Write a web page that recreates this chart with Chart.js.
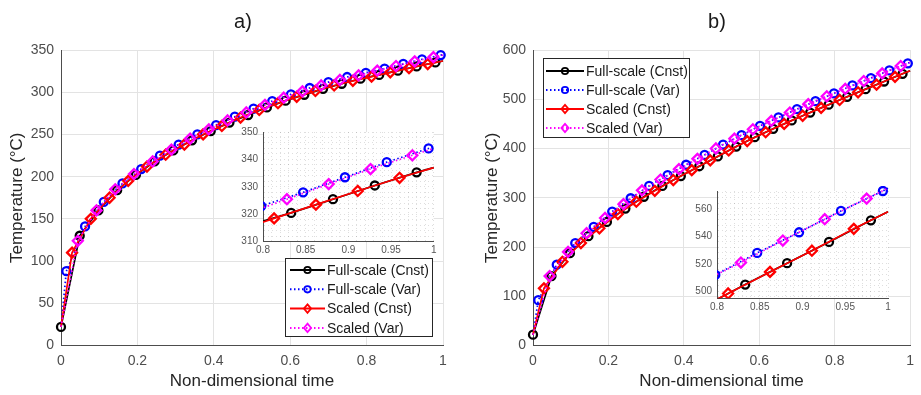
<!DOCTYPE html>
<html>
<head>
<meta charset="utf-8">
<script src="https://cdn.jsdelivr.net/npm/chart.js@4.4.0/dist/chart.umd.min.js"></script>
<style>
  body { margin: 0; background: #fff; }
  #wrap { position: relative; width: 921px; height: 395px; overflow: hidden; font-family: "Liberation Sans", Arial, sans-serif; }
  canvas { position: absolute; }
  .panel { position: absolute; top: 9px; font-size: 20px; line-height: 24px; color: #1a1a1a; transform: translateX(-50%); }
</style>
</head>
<body>
<div id="wrap">
  <canvas id="mainA" width="460" height="395" style="left:0;top:0"></canvas>
  <canvas id="mainB" width="461" height="395" style="left:460px;top:0"></canvas>
  <canvas id="insetA" width="215" height="140" style="left:225px;top:121px"></canvas>
  <canvas id="insetB" width="215" height="140" style="left:680px;top:180px"></canvas>
  <div class="panel" style="left:243px">a)</div>
  <div class="panel" style="left:717px">b)</div>
</div>
<script>
// series names (legend order)
const seriesNames = ["Full-scale (Cnst)", "Full-scale (Var)", "Scaled (Cnst)", "Scaled (Var)"];

// marker times, non-dimensional (same sampling in both panels)
const tFullCnst   = [0, 0.049, 0.098, 0.147, 0.196, 0.245, 0.294, 0.343, 0.392, 0.441, 0.490, 0.539, 0.588, 0.637, 0.686, 0.735, 0.784, 0.833, 0.882, 0.931, 0.980];
const tFullVar    = [0.014, 0.063, 0.112, 0.161, 0.210, 0.259, 0.308, 0.357, 0.406, 0.455, 0.504, 0.553, 0.602, 0.651, 0.700, 0.749, 0.798, 0.847, 0.896, 0.945, 0.994];
const tScaledCnst = [0.029, 0.078, 0.127, 0.176, 0.225, 0.274, 0.323, 0.372, 0.421, 0.470, 0.519, 0.568, 0.617, 0.666, 0.715, 0.764, 0.813, 0.862, 0.911, 0.960];
const tScaledVar  = [0.044, 0.093, 0.142, 0.191, 0.240, 0.289, 0.338, 0.387, 0.436, 0.485, 0.534, 0.583, 0.632, 0.681, 0.730, 0.779, 0.828, 0.877, 0.926, 0.975];

const startTemp = 22; // all curves start here at t = 0

// panel a) temperatures (°C) at the marker times
const aFullCnst   = [22, 130, 160, 184, 202, 218, 231, 243, 254, 264, 273, 282, 290, 297, 304, 310, 316, 320.5, 325.5, 330.5, 335.3];
const aFullVar    = [88, 141, 170, 192, 209, 225, 238, 250, 261, 271, 280.5, 289.5, 297.5, 305, 312, 318, 323, 328, 333.5, 339, 344];
const aScaledCnst = [110, 150, 175, 195, 212, 226, 238, 250, 260, 270, 279, 287, 294.5, 301.5, 308, 313.5, 318.5, 323.5, 328.5, 333.3];
const aScaledVar  = [124, 160, 185, 203, 218, 232, 245, 256, 266.5, 276, 285, 293.5, 301, 308, 314.5, 320, 325.5, 331, 336.5, 341.5];
const aEndTemp    = [337, 344.5, 337, 344]; // value at t = 1

// panel b) temperatures (°C) at the marker times
const bFullCnst   = [22, 141, 187.5, 222, 251, 278, 302, 324, 344, 364, 384, 404, 423, 440, 457, 473, 489, 505, 520.5, 536, 551.7];
const bFullVar    = [92, 164, 208, 241, 272, 299, 324, 346, 367, 387, 408, 427, 446, 463, 480, 496, 512, 528, 543, 558.5, 573];
const bScaledCnst = [116, 170, 208, 238, 267, 292, 314, 336, 356, 376, 396, 415, 433, 450, 466.5, 482.5, 498.5, 514.2, 529.6, 545.5];
const bScaledVar  = [141, 190, 228, 259, 287, 315, 337, 358, 379, 400, 420, 439, 456, 473, 490, 506, 521, 537, 552.5, 567.5];
const bEndTemp    = [558, 575, 558, 575];

// tick labels
const mainXTicks   = [0, 0.2, 0.4, 0.6, 0.8, 1];
const insetXTicks  = [0.8, 0.85, 0.9, 0.95, 1];
const insetAYTicks = [310, 320, 330, 340, 350];
const insetBYTicks = [500, 520, 540, 560];

const FONT = '"Liberation Sans", Arial, sans-serif';
Chart.defaults.font.family = FONT;

const looks = [
  { color: "#000000", dash: [], style: "circle", r: 4, order: 4 },
  { color: "#0000ff", dash: [1.5, 2.5], style: "circle", r: 4, order: 3 },
  { color: "#ff0000", dash: [], style: "rectRot", r: 5, order: 2 },
  { color: "#ff00ff", dash: [1.5, 2.5], style: "rectRot", r: 5, order: 1 },
];
const allTimes = [tFullCnst, tFullVar, tScaledCnst, tScaledVar];

function makeDatasets(temps, ends, clip) {
  return temps.map((vals, i) => {
    const lk = looks[i];
    const pts = [], radii = [];
    if (allTimes[i][0] > 0) { pts.push({ x: 0, y: startTemp }); radii.push(0); }
    allTimes[i].forEach((t, k) => { pts.push({ x: t, y: vals[k] }); radii.push(lk.r); });
    pts.push({ x: 1, y: ends[i] }); radii.push(0);
    return {
      label: seriesNames[i],
      data: pts,
      borderColor: lk.color,
      backgroundColor: "rgba(0,0,0,0)",
      borderWidth: 1.7,
      borderDash: lk.dash,
      pointStyle: lk.style,
      pointRadius: radii,
      pointBorderColor: lk.color,
      pointBackgroundColor: "rgba(0,0,0,0)",
      pointBorderWidth: 2.3,
      tension: 0,
      order: lk.order,
      clip: clip,
    };
  });
}

// legend box drawn inside the axes, MATLAB style
const boxLegend = {
  id: "boxLegend",
  afterDraw(chart, args, o) {
    if (!o || !o.w) return;
    const ctx = chart.ctx;
    ctx.save();
    ctx.fillStyle = "#ffffff";
    ctx.fillRect(o.x, o.y, o.w, o.h);
    ctx.strokeStyle = "#262626";
    ctx.lineWidth = 1;
    ctx.strokeRect(o.x + 0.5, o.y + 0.5, o.w - 1, o.h - 1);
    ctx.font = "14px " + FONT;
    ctx.textBaseline = "middle";
    chart.data.datasets.forEach((ds, i) => {
      const cy = o.y + o.first + i * o.gap;
      ctx.strokeStyle = ds.borderColor;
      ctx.lineWidth = 2;
      ctx.setLineDash(ds.borderDash);
      ctx.beginPath();
      ctx.moveTo(o.x + o.lx0, cy);
      ctx.lineTo(o.x + o.lx1, cy);
      ctx.stroke();
      ctx.setLineDash([]);
      const mx = o.x + (o.lx0 + o.lx1) / 2;
      ctx.lineWidth = 1.8;
      ctx.beginPath();
      if (ds.pointStyle === "circle") {
        ctx.arc(mx, cy, 3.2, 0, Math.PI * 2);
      } else {
        ctx.moveTo(mx, cy - 4.2); ctx.lineTo(mx + 3.6, cy); ctx.lineTo(mx, cy + 4.2); ctx.lineTo(mx - 3.6, cy); ctx.closePath();
      }
      ctx.stroke();
      ctx.fillStyle = "#1a1a1a";
      ctx.fillText(ds.label, o.x + o.tx, cy + 1);
    });
    ctx.restore();
  },
};

// white plot area for insets
const insetBg = {
  id: "insetBg",
  beforeDraw(chart) {
    const a = chart.chartArea;
    chart.ctx.save();
    chart.ctx.fillStyle = "#ffffff";
    chart.ctx.fillRect(a.left, a.top, a.right - a.left, a.bottom - a.top);
    chart.ctx.restore();
  },
};

function mainChart(id, temps, ends, yMax, yStep, yAxisW, padRight, yTitlePad, legendOpts) {
  return new Chart(document.getElementById(id), {
    type: "line",
    data: { datasets: makeDatasets(temps, ends, false) },
    plugins: [boxLegend],
    options: {
      responsive: false,
      animation: false,
      events: [],
      layout: { padding: { top: 50, right: padRight, bottom: 0, left: 0 } },
      plugins: { legend: { display: false }, tooltip: { enabled: false }, boxLegend: legendOpts },
      scales: {
        x: {
          type: "linear", min: 0, max: 1,
          afterFit: (s) => { s.height = 49.5; },
          afterBuildTicks: (s) => { s.ticks = mainXTicks.map((v) => ({ value: v })); },
          grid: { color: "#e3e3e3", lineWidth: 1, drawTicks: false },
          border: { color: "#4d4d4d", width: 1 },
          ticks: { color: "#4d4d4d", font: { size: 14 }, padding: 7, maxRotation: 0, autoSkip: false,
                   callback: (v) => String(+v.toFixed(1)) },
          title: { display: true, text: "Non-dimensional time", color: "#262626", font: { size: 17 }, padding: { top: 0, bottom: 3 } },
        },
        y: {
          min: 0, max: yMax,
          afterFit: (s) => { s.width = yAxisW; },
          grid: { color: "#e3e3e3", lineWidth: 1, drawTicks: false },
          border: { color: "#4d4d4d", width: 1 },
          ticks: { stepSize: yStep, color: "#4d4d4d", font: { size: 14 }, padding: 7 },
          title: { display: true, text: "Temperature (°C)", color: "#262626", font: { size: 17 }, padding: { top: yTitlePad, bottom: 0 } },
        },
      },
    },
  });
}

function insetChart(id, temps, ends, yMin, yMax, yMinorStep, yLabels, yAxisW, padTop, padRight, xAxisH, clip) {
  return new Chart(document.getElementById(id), {
    type: "line",
    data: { datasets: makeDatasets(temps, ends, clip) },
    plugins: [insetBg],
    options: {
      responsive: false,
      animation: false,
      events: [],
      layout: { padding: { top: padTop, right: padRight, bottom: 0, left: 0 } },
      plugins: { legend: { display: false }, tooltip: { enabled: false } },
      scales: {
        x: {
          type: "linear", min: 0.8, max: 1,
          afterFit: (s) => { s.height = xAxisH; },
          afterBuildTicks: (s) => {
            const t = [];
            for (let i = 0; i <= 20; i++) t.push({ value: +(0.8 + i * 0.01).toFixed(2) });
            s.ticks = t;
          },
          grid: { color: "rgba(0,0,0,0.13)", lineWidth: 1, drawTicks: false },
          border: { color: "#4d4d4d", width: 1, dash: [1, 3] },
          ticks: { color: "#555", font: { size: 10 }, padding: 3, maxRotation: 0, autoSkip: false,
                   callback: (v) => insetXTicks.includes(+v.toFixed(2)) ? String(+v.toFixed(2)) : "" },
        },
        y: {
          min: yMin, max: yMax,
          afterFit: (s) => { s.width = yAxisW; },
          afterBuildTicks: (s) => {
            const t = [];
            for (let v = Math.ceil(yMin / yMinorStep) * yMinorStep; v <= yMax; v += yMinorStep) t.push({ value: v });
            s.ticks = t;
          },
          grid: { color: "rgba(0,0,0,0.13)", lineWidth: 1, drawTicks: false },
          border: { color: "#4d4d4d", width: 1, dash: [1, 3] },
          ticks: { color: "#555", font: { size: 10 }, padding: 5, autoSkip: false,
                   callback: (v) => yLabels.includes(v) ? String(v) : "" },
        },
      },
    },
  });
}

mainChart("mainA", [aFullCnst, aFullVar, aScaledCnst, aScaledVar], aEndTemp, 350, 50, 61, 17, 7,
  { x: 285, y: 258, w: 148, h: 79, first: 12, gap: 19.3, lx0: 5, lx1: 40, tx: 42 });
mainChart("mainB", [bFullCnst, bFullVar, bScaledCnst, bScaledVar], bEndTemp, 600, 100, 73, 6, 22,
  { x: 83, y: 58, w: 147, h: 80, first: 13, gap: 19, lx0: 3, lx1: 41, tx: 43 });

insetChart("insetA", [aFullCnst, aFullVar, aScaledCnst, aScaledVar], aEndTemp, 310, 350, 2, insetAYTicks,
  38, 11, 5, 19.3, { left: 0, top: 0, right: 6, bottom: 0 });
insetChart("insetB", [bFullCnst, bFullVar, bScaledCnst, bScaledVar], bEndTemp, 495, 573, 4, insetBYTicks,
  37, 10, 7, 21.7, { left: 0, top: 5, right: 6, bottom: 0 });
</script>
</body>
</html>
